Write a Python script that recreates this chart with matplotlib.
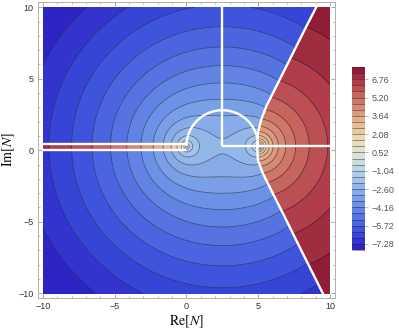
import numpy as np
import matplotlib
matplotlib.use('Agg')
import matplotlib.pyplot as plt
from matplotlib.colors import LinearSegmentedColormap

plt.rcParams['mathtext.fontset'] = 'stix'

# ---- model of the plotted field
N1_RE, N2_RE = 0.0, 5.0        # branch points on the real axis
IM_OFF = 0.28                  # vertical offset of the branch points
# blue sheet: g = B - K |N'(N'-5)|^P
FIELD_B, FIELD_K, FIELD_P = 2.32, 3.38, 0.2
# red sheet right of the curve: r = A + C ln|N'-5|
RED_A, RED_C, RED_MIN = 3.59, 1.68, 0.1
LEVELS = np.round(np.arange(-7.80, 7.81, 0.52), 2)
CBAR_TICKS = LEVELS[1::3]

# ---- white paths (Re, Im)
CURVE_RE = [9.04, 8.11, 7.18, 6.25, 5.55, 5.20, 4.97, 4.93, 4.97, 5.32, 6.01, 6.95, 7.87, 8.80, 9.50]
CURVE_IM = [10.0, 8.18, 6.31, 4.45, 3.05, 2.12, 1.19, 0.30, -0.68, -1.61, -3.00, -4.87, -6.74, -8.60, -10.0]
CUT_LOW_IM, CUT_HIGH_IM = 0.05, 0.47
ARC_CENTER, ARC_RADIUS = (2.5, 0.30), 2.5
VERT_RE = 2.5
HORIZ_IM = 0.30

cmap = LinearSegmentedColormap.from_list('temp', [
    (0.00, '#2a1cc0'), (0.10, '#3a4edc'), (0.25, '#6c93e6'),
    (0.40, '#a8c9ea'), (0.50, '#d2e2da'), (0.56, '#e6e2c6'),
    (0.62, '#ecd6ae'), (0.72, '#e2ad8b'), (0.82, '#cf7766'),
    (0.91, '#b5414e'), (1.00, '#8a1430')])

x = np.linspace(-10, 10, 801)
y = np.linspace(-10, 10, 801)
X, Y = np.meshgrid(x, y)
Z = X + 1j * (Y - IM_OFF)
g = FIELD_B - FIELD_K * np.abs((Z - N1_RE) * (Z - N2_RE)) ** FIELD_P
r = np.maximum(RED_A + RED_C * np.log(np.abs(Z - N2_RE) + 1e-9), RED_MIN)

xb = np.interp(Y, CURVE_IM[::-1], CURVE_RE[::-1])
right = X > xb
strip = (X < 0) & (Y > CUT_LOW_IM) & (Y < CUT_HIGH_IM)
red_vals = np.where(right, r, -g)
blue_field = np.ma.masked_where(right | strip, np.clip(g, -7.79, 7.79))
red_field = np.ma.masked_where(~(right | strip), np.clip(red_vals, -7.79, 7.79))

fig = plt.figure(figsize=(3.99, 3.33), dpi=100)
ax = fig.add_axes([0.0952, 0.1051, 0.7444, 0.889])
cax = fig.add_axes([0.882, 0.249, 0.0326, 0.5495])

cs = ax.contourf(X, Y, blue_field, levels=LEVELS, cmap=cmap)
ax.contourf(X, Y, red_field, levels=LEVELS, cmap=cmap)
line_kw = dict(levels=LEVELS, colors='#1a1a2a', linewidths=0.55, alpha=0.55,
               linestyles='solid')
ax.contour(X, Y, blue_field, **line_kw)
cl = ax.contour(X, Y, red_field, **line_kw)

# white paths
wkw = dict(color='white', lw=1.7, solid_capstyle='butt', zorder=5)
ax.plot([-10, 0], [CUT_LOW_IM, CUT_LOW_IM], **wkw)
ax.plot([-10, 0], [CUT_HIGH_IM, CUT_HIGH_IM], **wkw)
th = np.linspace(0, np.pi, 200)
ax.plot(ARC_CENTER[0] + ARC_RADIUS * np.cos(th), ARC_CENTER[1] + ARC_RADIUS * np.sin(th), **wkw)
ax.plot([VERT_RE, VERT_RE], [10, HORIZ_IM], **wkw)
ax.plot([VERT_RE, 10], [HORIZ_IM, HORIZ_IM], **wkw)
ax.plot(CURVE_RE, CURVE_IM, color='white', lw=1.7, zorder=5)

ax.set_xlim(-10.35, 10.35)
ax.set_ylim(-10.33, 10.37)
ax.set_xticks([-10, -5, 0, 5, 10])
ax.set_yticks([-10, -5, 0, 5, 10])
ax.set_xticks(np.arange(-10, 11, 1), minor=True)
ax.set_yticks(np.arange(-10, 11, 1), minor=True)
ax.tick_params(which='both', direction='in', top=True, right=True,
               color='#9a9a9a', labelsize=6.5, labelcolor='#333333', pad=3)
ax.tick_params(which='major', length=3.2, width=0.6)
ax.tick_params(which='minor', length=1.6, width=0.5)
for lab in ax.get_xticklabels() + ax.get_yticklabels():
    lab.set_family('Liberation Sans')
for sp in ax.spines.values():
    sp.set_color('#b0b0b0')
    sp.set_linewidth(0.7)

ax.set_xlabel(r'$\mathrm{Re}[N]$', fontsize=10, labelpad=2)
ax.set_ylabel(r'$\mathrm{Im}[N]$', fontsize=10, labelpad=1)

cb = fig.colorbar(cs, cax=cax, ticks=CBAR_TICKS)
cb.add_lines(cl)
cb.ax.set_yticklabels([f'{v:.2f}'.replace('-', '\u2212') for v in CBAR_TICKS])
cb.ax.tick_params(length=2.5, width=0.5, color='#9a9a9a', labelsize=6.5,
                  labelcolor='#555555', pad=2)
for lab in cb.ax.get_yticklabels():
    lab.set_family('Liberation Sans')
cb.outline.set_visible(False)

fig.savefig('out.png', dpi=100)
